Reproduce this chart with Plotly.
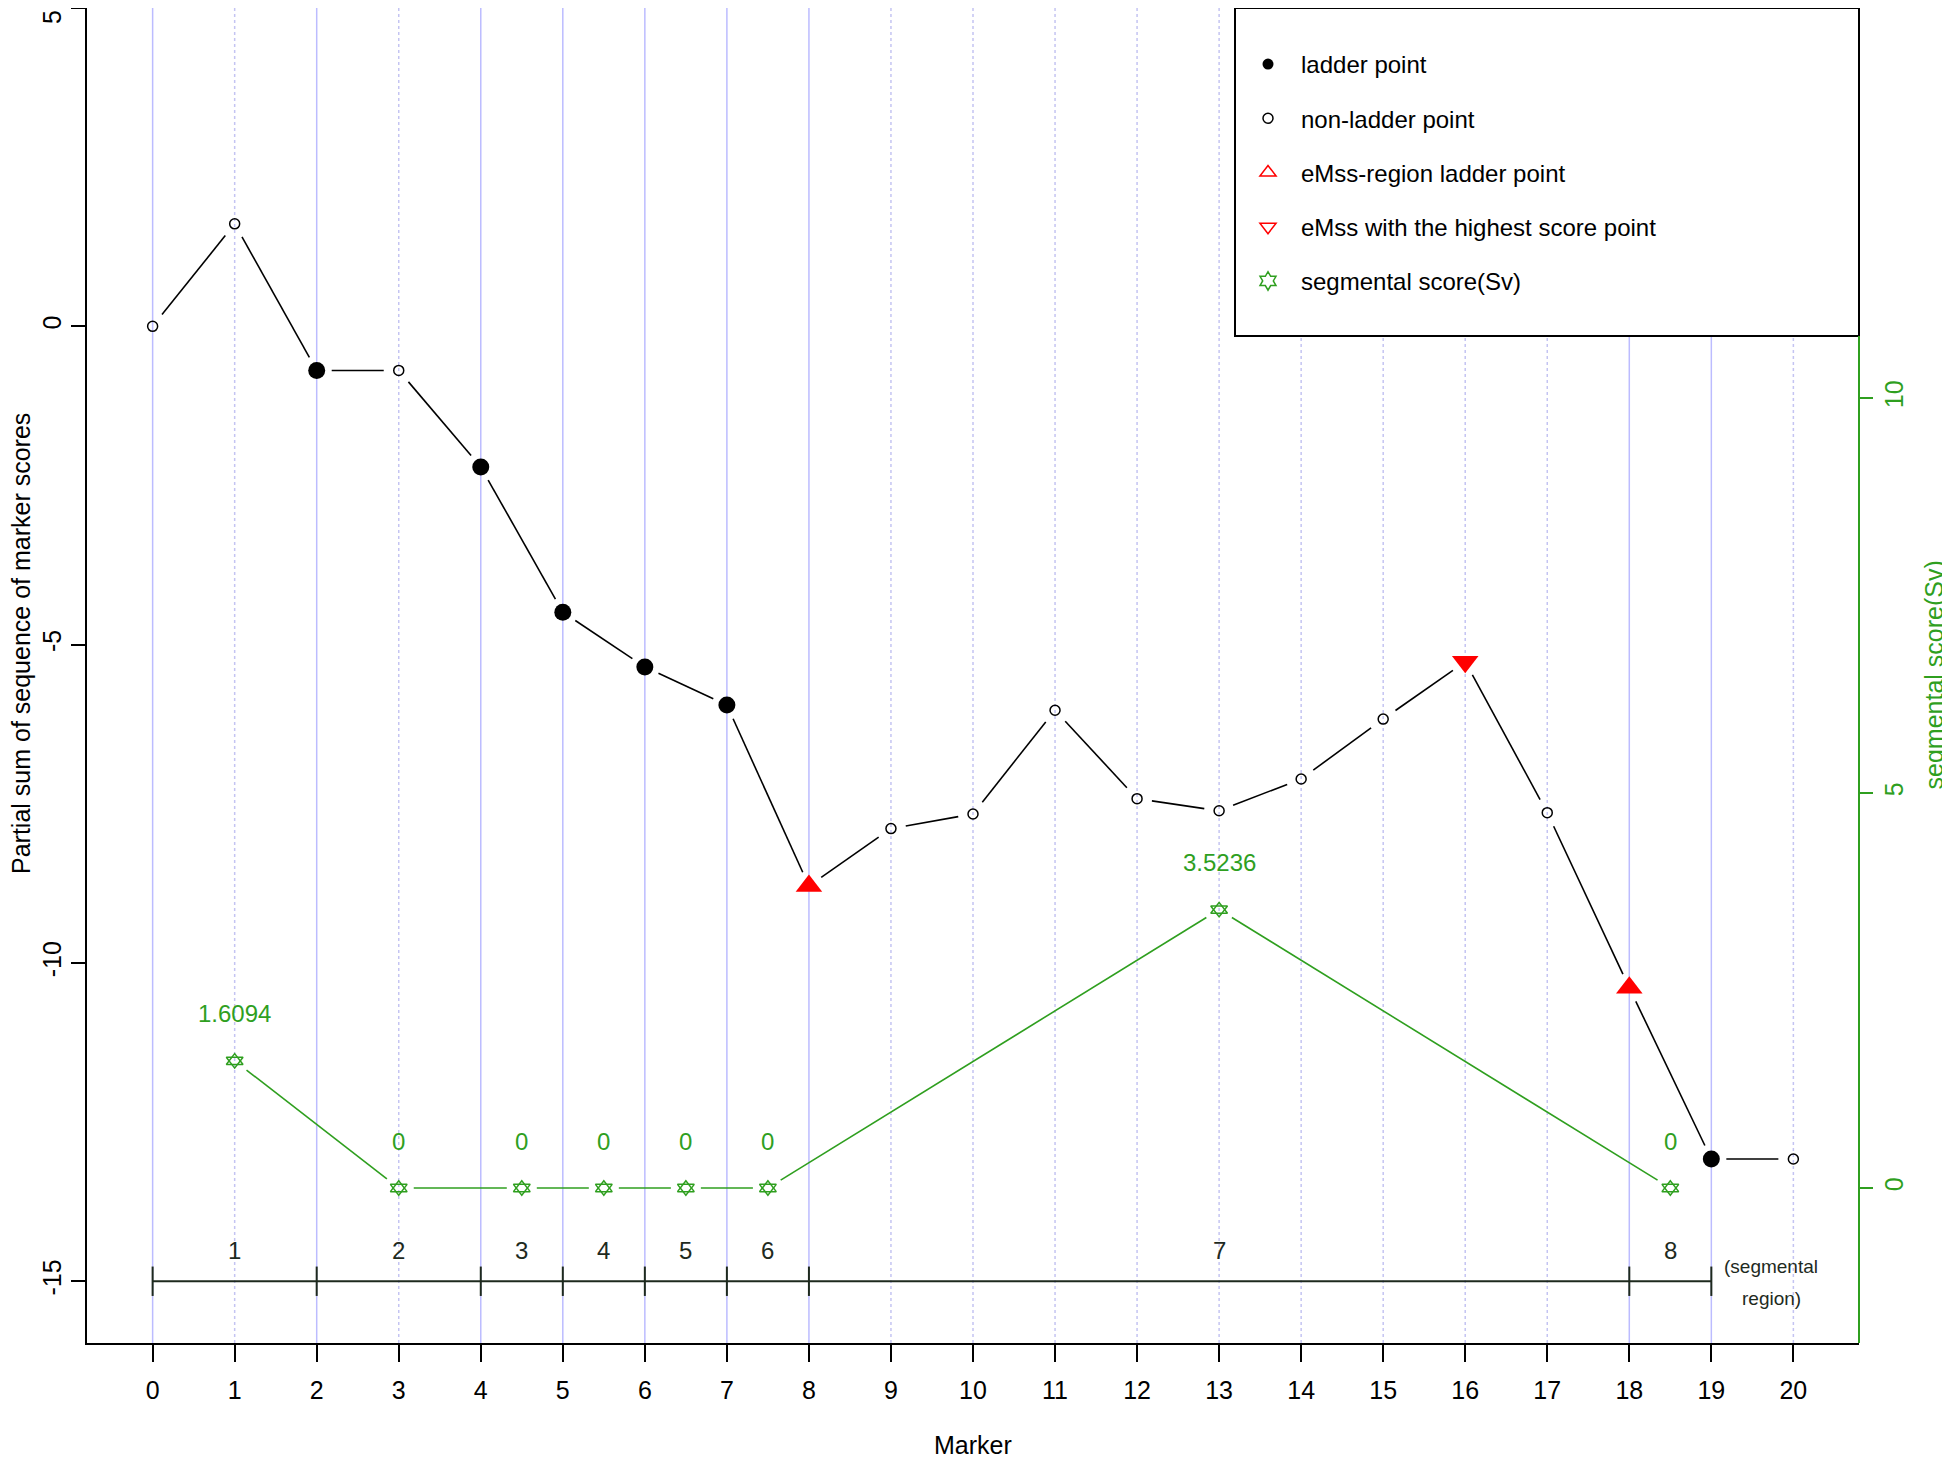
import math
import plotly.graph_objects as go

# ---------------- data ----------------
markers = list(range(21))
partial_sum = [0.0, 1.6094, -0.6931, -0.6931, -2.21, -4.49, -5.35, -5.95, -8.79,
               -7.89, -7.66, -6.03, -7.42, -7.61, -7.11, -6.17, -5.27, -7.64,
               -10.39, -13.08, -13.08]
ladder_idx = [2, 4, 5, 6, 7, 19]
nonladder_idx = [0, 1, 3, 9, 10, 11, 12, 13, 14, 15, 17, 20]
emss_region_idx = [8, 18]
emss_high_idx = [16]

seg_bounds = [0, 2, 4, 5, 6, 7, 8, 18, 19]
seg_ids = ["1", "2", "3", "4", "5", "6", "7", "8"]
seg_scores = [1.6094, 0, 0, 0, 0, 0, 3.5236, 0]
seg_score_labels = ["1.6094", "0", "0", "0", "0", "0", "3.5236", "0"]
seg_axis_level = -15

left_ticks = [-15, -10, -5, 0, 5]
right_ticks = [0, 5, 10]

legend_labels = ["ladder point", "non-ladder point", "eMss-region ladder point",
                 "eMss with the highest score point", "segmental score(Sv)"]

# ---------------- layout constants ----------------
OFF = 8                      # default page body margin
W, H = 1950 - OFF, 1461 - OFF
ML, MR, MT, MB = 87 - OFF, 91, 0, 118
PW, PH = W - ML - MR, H - MT - MB
PLOT_BOTTOM = OFF + H - MB   # window px of x-axis line
XR = [-0.8, 20.8]
YR = [-15.97, 5.0]
Y2R = [-1.962, 14.937]
FONT = "Liberation Sans, Arial, sans-serif"
GREEN = "#2f9f1f"
RED = "#ff0000"
DARK = "#1e2a1e"
GRID_SOLID = "#bcbcff"
GRID_DOT = "#c4c4f2"

seg_mid = [(seg_bounds[i] + seg_bounds[i + 1]) / 2 for i in range(len(seg_bounds) - 1)]


def gapped(xs, ys, xr, yr, gap=15.0):
    """R type='b' style: segments shortened by a pixel gap at each point."""
    sx = PW / (xr[1] - xr[0])
    sy = PH / (yr[1] - yr[0])
    gx, gy = [], []
    for i in range(len(xs) - 1):
        dx = (xs[i + 1] - xs[i]) * sx
        dy = (ys[i + 1] - ys[i]) * sy
        L = math.hypot(dx, dy)
        if L <= 2 * gap:
            continue
        f = gap / L
        gx += [xs[i] + f * (xs[i + 1] - xs[i]), xs[i + 1] - f * (xs[i + 1] - xs[i]), None]
        gy += [ys[i] + f * (ys[i + 1] - ys[i]), ys[i + 1] - f * (ys[i + 1] - ys[i]), None]
    return gx, gy


fig = go.Figure()

# black partial-sum line with gaps
bx, by = gapped(markers, partial_sum, XR, YR)
fig.add_trace(go.Scatter(x=bx, y=by, mode="lines", line=dict(color="black", width=1.6),
                         showlegend=False, hoverinfo="skip"))

# green segmental-score line with gaps (right axis)
gx, gy = gapped(seg_mid, seg_scores, XR, Y2R)
fig.add_trace(go.Scatter(x=gx, y=gy, mode="lines", yaxis="y2",
                         line=dict(color=GREEN, width=1.6),
                         showlegend=False, hoverinfo="skip"))

# segmental region axis
fig.add_trace(go.Scatter(x=[seg_bounds[0], seg_bounds[-1]], y=[seg_axis_level] * 2,
                         mode="lines", line=dict(color=DARK, width=2),
                         showlegend=False, hoverinfo="skip"))
fig.add_trace(go.Scatter(x=seg_bounds, y=[seg_axis_level] * len(seg_bounds),
                         mode="markers",
                         marker=dict(symbol="line-ns", size=21, color=DARK,
                                     line=dict(color=DARK, width=2)),
                         showlegend=False, hoverinfo="skip"))

# points
fig.add_trace(go.Scatter(x=[markers[i] for i in ladder_idx], y=[partial_sum[i] for i in ladder_idx],
                         mode="markers", marker=dict(symbol="circle", size=17, color="black"),
                         showlegend=False))
fig.add_trace(go.Scatter(x=[markers[i] for i in nonladder_idx], y=[partial_sum[i] for i in nonladder_idx],
                         mode="markers",
                         marker=dict(symbol="circle-open", size=10, color="black", line=dict(width=1.5)),
                         showlegend=False))
fig.add_trace(go.Scatter(x=[markers[i] for i in emss_region_idx], y=[partial_sum[i] for i in emss_region_idx],
                         mode="markers", marker=dict(symbol="triangle-up", size=23, color=RED),
                         showlegend=False))
fig.add_trace(go.Scatter(x=[markers[i] for i in emss_high_idx], y=[partial_sum[i] for i in emss_high_idx],
                         mode="markers", marker=dict(symbol="triangle-down", size=23, color=RED),
                         showlegend=False))
# segmental score points: up and down triangles superimposed (R pch 11)
for sym in ["triangle-up-open", "triangle-down-open"]:
    fig.add_trace(go.Scatter(x=seg_mid, y=seg_scores, yaxis="y2", mode="markers",
                             marker=dict(symbol=sym, size=14.5, color=GREEN, line=dict(width=1.5)),
                             showlegend=False))

# legend proxies
legend_styles = [
    dict(symbol="circle", size=11, color="black"),
    dict(symbol="circle-open", size=10, color="black", line=dict(width=1.5)),
    dict(symbol="triangle-up-open", size=14, color=RED, line=dict(width=1.5)),
    dict(symbol="triangle-down-open", size=14, color=RED, line=dict(width=1.5)),
    dict(symbol="hexagram-open", size=14, color=GREEN, line=dict(width=1.5)),
]
for i, (lab, st) in enumerate(zip(legend_labels, legend_styles)):
    fig.add_trace(go.Scatter(x=[None], y=[None], mode="markers", marker=st, name=lab,
                             legendgroup=f"g{i}", showlegend=True))

# ---------------- shapes ----------------
def paper_y(win_y):
    return (PLOT_BOTTOM - win_y) / PH


shapes = []
for k in markers:
    solid = k in seg_bounds
    shapes.append(dict(type="line", xref="x", yref="paper", x0=k, x1=k, y0=0, y1=1,
                       layer="below",
                       line=dict(color=GRID_SOLID if solid else GRID_DOT, width=1.5,
                                 dash="solid" if solid else "dot")))
leg_bottom = paper_y(336)
leg_left = (1235 - (OFF + ML)) / PW
shapes.append(dict(type="rect", xref="paper", yref="paper", x0=leg_left, x1=1, y0=leg_bottom, y1=1,
                   fillcolor="white", line=dict(color="black", width=2), layer="below"))
shapes.append(dict(type="line", xref="paper", yref="paper", x0=1, x1=1, y0=0, y1=leg_bottom,
                   line=dict(color=GREEN, width=2), layer="above"))

# ---------------- annotations ----------------
ann = []
for xm, sid in zip(seg_mid, seg_ids):
    ann.append(dict(x=xm, y=seg_axis_level, xref="x", yref="y", text=sid, showarrow=False,
                    yshift=31, font=dict(size=24, color=DARK, family=FONT)))
for xm, sv, lab in zip(seg_mid, seg_scores, seg_score_labels):
    ann.append(dict(x=xm, y=sv, xref="x", yref="y2", text=lab, showarrow=False,
                    yshift=47, font=dict(size=24, color=GREEN, family=FONT)))
ann.append(dict(x=seg_bounds[-1], y=seg_axis_level, xref="x", yref="y", text="(segmental",
                showarrow=False, xshift=60, yshift=15, font=dict(size=19, color=DARK, family=FONT)))
ann.append(dict(x=seg_bounds[-1], y=seg_axis_level, xref="x", yref="y", text="region)",
                showarrow=False, xshift=60, yshift=-17, font=dict(size=19, color=DARK, family=FONT)))
ann.append(dict(x=0.5, y=0, xref="paper", yref="paper", text="Marker", showarrow=False,
                yshift=-102, yanchor="middle", font=dict(size=25, color="black", family=FONT)))
ann.append(dict(x=0, y=paper_y(644), xref="paper", yref="paper",
                text="Partial sum of sequence of marker scores", showarrow=False, textangle=-90,
                xshift=-66, xanchor="center", yanchor="middle",
                font=dict(size=25, color="black", family=FONT)))
ann.append(dict(x=1, y=0.5, xref="paper", yref="paper", text="segmental score(Sv)",
                showarrow=False, textangle=-90, xshift=74, xanchor="center", yanchor="middle",
                font=dict(size=25, color=GREEN, family=FONT)))
# top left tick label sits at the very page edge: drawn as a text kept inside the page
top_tick = max(left_ticks)
ann.append(dict(x=0, y=top_tick, xref="paper", yref="y", text=str(top_tick), showarrow=False,
                textangle=-90, xshift=-35, xanchor="center", yanchor="top",
                font=dict(size=25, color="black", family=FONT)))

fig.update_layout(
    width=W, height=H,
    margin=dict(l=ML, r=MR, t=MT, b=MB, pad=0, autoexpand=False),
    paper_bgcolor="white", plot_bgcolor="white",
    font=dict(family=FONT, size=25, color="black"),
    xaxis=dict(range=XR, tickmode="array", tickvals=markers, ticktext=[str(m) for m in markers],
               ticks="outside", ticklen=17, tickwidth=2, tickcolor="black", automargin=False,
               showline=True, linecolor="black", linewidth=2, mirror=True,
               showgrid=False, zeroline=False, tickfont=dict(size=25), ticklabelstandoff=7),
    yaxis=dict(range=YR, tickmode="array", tickvals=left_ticks,
               ticktext=["" if t == top_tick else str(t) for t in left_ticks],
               tickangle=-90, ticks="outside", ticklen=14, tickwidth=2, tickcolor="black",
               showline=True, linecolor="black", linewidth=2,
               automargin=False,
               showgrid=False, zeroline=False, tickfont=dict(size=25), ticklabelstandoff=0),
    yaxis2=dict(range=Y2R, overlaying="y", side="right", tickmode="array", tickvals=right_ticks,
                ticktext=[str(t) for t in right_ticks], tickangle=-90, automargin=False,
                ticks="outside", ticklen=13, tickwidth=2, tickcolor=GREEN,
                showline=False, showgrid=False, zeroline=False,
                tickfont=dict(size=25, color=GREEN), ticklabelstandoff=0),
    legend=dict(x=leg_left, y=paper_y(42), xanchor="left", yanchor="top",
                bgcolor="rgba(0,0,0,0)", borderwidth=0, itemwidth=56, tracegroupgap=20,
                font=dict(size=24, color="black", family=FONT), itemsizing="trace"),
    shapes=shapes,
    annotations=ann,
    showlegend=True,
)

fig.write_html("out.html")
